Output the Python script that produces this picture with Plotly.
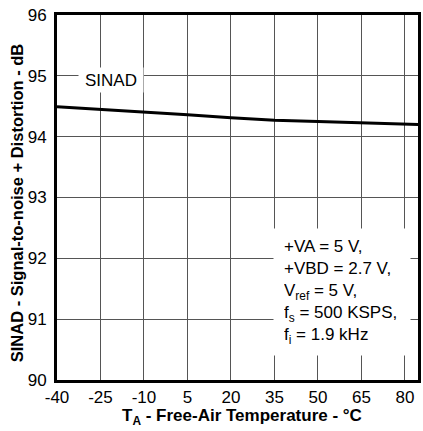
import plotly.graph_objects as go

# Data
temps = [-40, -25, -10, 5, 20, 35, 50, 65, 80, 85]
sinad = [94.49, 94.45, 94.40, 94.36, 94.31, 94.27, 94.25, 94.23, 94.21, 94.20]
x_ticks = [-40, -25, -10, 5, 20, 35, 50, 65, 80]
y_ticks = [90, 91, 92, 93, 94, 95, 96]

FONT = "Arial, Liberation Sans, sans-serif"

fig = go.Figure()
fig.add_trace(go.Scatter(x=temps, y=sinad, mode="lines",
                         line=dict(color="black", width=3), showlegend=False,
                         hoverinfo="skip"))

fig.update_layout(
    width=423, height=431,
    margin=dict(l=57, r=2, t=15, b=51),
    paper_bgcolor="white", plot_bgcolor="white",
    font=dict(family=FONT, color="black", size=17),
    showlegend=False,
)
fig.update_xaxes(
    range=[-40, 84.5], tickvals=x_ticks, ticktext=[str(v) for v in x_ticks],
    showgrid=True, gridcolor="#555", gridwidth=1,
    showline=True, linecolor="black", linewidth=3, mirror=True,
    ticks="", zeroline=False, tickfont=dict(size=17),
)
fig.update_yaxes(
    range=[90, 96], tickvals=y_ticks, ticktext=[str(v) for v in y_ticks],
    showgrid=True, gridcolor="#555", gridwidth=1,
    showline=True, linecolor="black", linewidth=3, mirror=True,
    ticks="", zeroline=False, tickfont=dict(size=17), ticklabelstandoff=4,
)

fig.add_annotation(x=-21.5, y=94.93, xref="x", yref="y", text="SINAD",
                   showarrow=False, bgcolor="white", width=62, height=22,
                   font=dict(size=17, family=FONT))

fig.add_annotation(x=34.5, y=91.45, xref="x", yref="y",
                   text=("+VA = 5 V,<br>+VBD = 2.7 V,<br>V<sub>ref</sub> = 5 V,"
                         "<br>f<sub>s</sub> = 500 KSPS,<br>f<sub>i</sub> = 1.9 kHz"),
                   showarrow=False, bgcolor="white", align="left",
                   xanchor="left", yanchor="middle", width=116, height=106,
                   borderpad=10, font=dict(size=17, family=FONT))

fig.add_annotation(x=0.512, y=-0.101, xref="paper", yref="paper", yanchor="middle",
                   text="<b>T<sub>A</sub> - Free-Air Temperature - °C</b>",
                   showarrow=False, font=dict(size=17, family=FONT))
fig.add_annotation(x=-0.11, y=0.485, xref="paper", yref="paper", xanchor="center",
                   text="<b>SINAD - Signal-to-noise + Distortion - dB</b>",
                   textangle=-90, showarrow=False, font=dict(size=16.5, family=FONT))

fig.write_html("out.html")
